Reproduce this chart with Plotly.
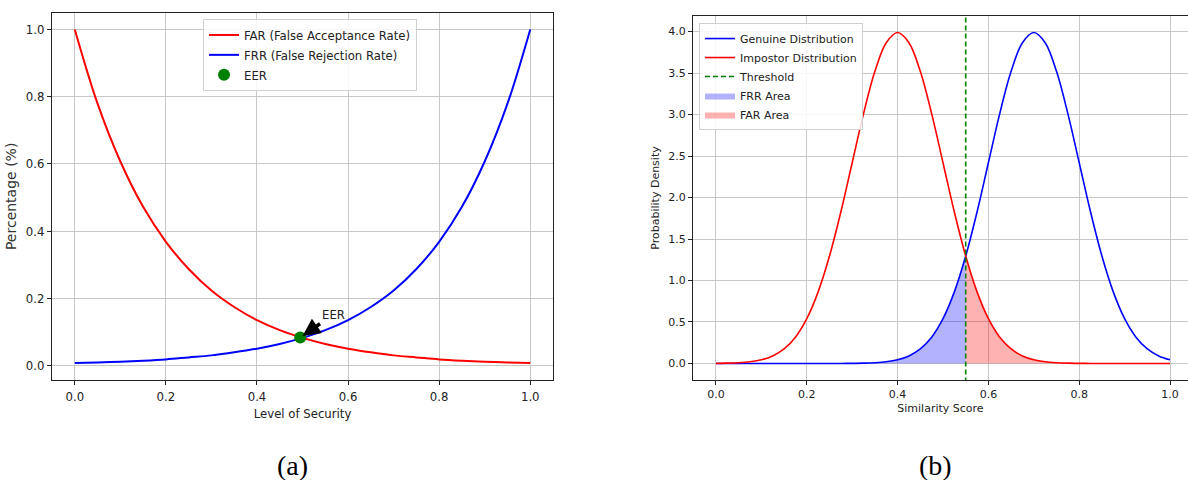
import plotly.graph_objects as go

# ---------- Panel (a) data ----------
security = [0.00, 0.05, 0.10, 0.15, 0.20, 0.25, 0.30, 0.35, 0.40, 0.45, 0.50,
            0.55, 0.60, 0.65, 0.70, 0.75, 0.80, 0.85, 0.90, 0.95, 1.00]
far = [1.000, 0.779, 0.607, 0.472, 0.368, 0.287, 0.223, 0.174, 0.135, 0.105, 0.082,
       0.064, 0.050, 0.039, 0.030, 0.024, 0.018, 0.014, 0.011, 0.009, 0.007]
frr = [0.007, 0.009, 0.011, 0.014, 0.018, 0.024, 0.030, 0.039, 0.050, 0.064, 0.082,
       0.105, 0.135, 0.174, 0.223, 0.287, 0.368, 0.472, 0.607, 0.779, 1.000]
eer_x = [0.495]
eer_y = [0.083]

# ---------- Panel (b) data ----------
score = [round(i * 0.025, 3) for i in range(41)]
genuine = [0, 0, 0, 0, 0, 0, 0, 0, 0.0, 0.0, 0.0001, 0.0004, 0.0013, 0.0035, 0.0087,
           0.020, 0.044, 0.091, 0.175, 0.317, 0.540, 0.863, 1.295, 1.826, 2.420, 3.011,
           3.521, 3.866, 3.989, 3.866, 3.521, 3.011, 2.420, 1.826, 1.295, 0.863, 0.540,
           0.317, 0.175, 0.091, 0.044]
impostor = [0.0013, 0.0035, 0.0087, 0.020, 0.044, 0.091, 0.175, 0.317, 0.540, 0.863,
            1.295, 1.826, 2.420, 3.011, 3.521, 3.866, 3.989, 3.866, 3.521, 3.011, 2.420,
            1.826, 1.295, 0.863, 0.540, 0.317, 0.175, 0.091, 0.044, 0.020, 0.0087, 0.0035,
            0.0013, 0.0004, 0.0001, 0, 0, 0, 0, 0, 0]
threshold = 0.55

LFONT = "DejaVu Sans Condensed, Liberation Sans Narrow, DejaVu Sans, sans-serif"
RFONT = "DejaVu Sans, sans-serif"

fig = go.Figure()

# Panel (a)
fig.add_trace(go.Scatter(x=security, y=far, mode="lines", line=dict(color="red", width=2, shape="spline"),
                         name="FAR (False Acceptance Rate)", xaxis="x", yaxis="y", legend="legend"))
fig.add_trace(go.Scatter(x=security, y=frr, mode="lines", line=dict(color="blue", width=2, shape="spline"),
                         name="FRR (False Rejection Rate)", xaxis="x", yaxis="y", legend="legend"))
fig.add_trace(go.Scatter(x=eer_x, y=eer_y, mode="markers", marker=dict(color="green", size=12),
                         name="EER", xaxis="x", yaxis="y", legend="legend"))

# Panel (b)
ti = score.index(threshold)
fig.add_trace(go.Scatter(x=score[:ti + 1], y=genuine[:ti + 1], mode="lines", fill="tozeroy",
                         line=dict(width=0, color="rgba(0,0,255,0.3)", shape="spline", smoothing=1),
                         fillcolor="rgba(0,0,255,0.3)", name="FRR Area", xaxis="x2", yaxis="y2",
                         legend="legend2", legendrank=4))
fig.add_trace(go.Scatter(x=score[ti:], y=impostor[ti:], mode="lines", fill="tozeroy",
                         line=dict(width=0, color="rgba(255,0,0,0.3)", shape="spline", smoothing=1),
                         fillcolor="rgba(255,0,0,0.3)", name="FAR Area", xaxis="x2", yaxis="y2",
                         legend="legend2", legendrank=5))
fig.add_trace(go.Scatter(x=score, y=genuine, mode="lines", line=dict(color="blue", width=1.6, shape="spline", smoothing=1),
                         name="Genuine Distribution", xaxis="x2", yaxis="y2", legend="legend2", legendrank=1))
fig.add_trace(go.Scatter(x=score, y=impostor, mode="lines", line=dict(color="red", width=1.6, shape="spline", smoothing=1),
                         name="Impostor Distribution", xaxis="x2", yaxis="y2", legend="legend2", legendrank=2))
fig.add_trace(go.Scatter(x=[threshold, threshold], y=[-1, 5], mode="lines",
                         line=dict(color="green", width=1.6, dash="5px,3px"),
                         name="Threshold", xaxis="x2", yaxis="y2", legend="legend2", legendrank=3))

axis_common = dict(showline=True, linecolor="#222", linewidth=1, mirror=True, ticks="outside",
                   ticklen=4, tickcolor="#222", showgrid=True, gridcolor="#c8c8c8", gridwidth=1.3,
                   zeroline=False, automargin=False)

fig.update_layout(
    template="none",
    width=1188, height=480,
    margin=dict(l=0, r=0, t=0, b=0),
    paper_bgcolor="white", plot_bgcolor="white",
    xaxis=dict(domain=[0.0438, 0.4655], range=[-0.05, 1.05], tickvals=[0, 0.2, 0.4, 0.6, 0.8, 1.0],
               ticktext=["0.0", "0.2", "0.4", "0.6", "0.8", "1.0"],
               tickfont=dict(family=LFONT, size=13, color="#222"),
               title=dict(text="Level of Security", font=dict(family=LFONT, size=13, color="#222"), standoff=6),
               **axis_common),
    yaxis=dict(domain=[0.2083, 0.9735], range=[-0.0433, 1.0497], tickvals=[0, 0.2, 0.4, 0.6, 0.8, 1.0],
               ticktext=["0.0", "0.2", "0.4", "0.6", "0.8", "1.0"],
               tickfont=dict(family=LFONT, size=13, color="#222"),
               title=dict(text="Percentage (%)", font=dict(family="DejaVu Sans, sans-serif", size=14, color="#333"), standoff=5),
               **axis_common),
    xaxis2=dict(domain=[0.5833, 1.0], range=[-0.0507, 1.0396], tickvals=[0, 0.2, 0.4, 0.6, 0.8, 1.0],
                ticktext=["0.0", "0.2", "0.4", "0.6", "0.8", "1.0"],
                tickfont=dict(family=RFONT, size=11, color="#222"),
                title=dict(text="Similarity Score", font=dict(family=RFONT, size=11, color="#222"), standoff=4),
                anchor="y2", **axis_common),
    yaxis2=dict(domain=[0.2083, 0.9667], range=[-0.1995, 4.1885],
                tickvals=[0, 0.5, 1.0, 1.5, 2.0, 2.5, 3.0, 3.5, 4.0],
                ticktext=["0.0", "0.5", "1.0", "1.5", "2.0", "2.5", "3.0", "3.5", "4.0"],
                tickfont=dict(family=RFONT, size=11, color="#222"),
                title=dict(text="Probability Density", font=dict(family=RFONT, size=11, color="#222"), standoff=6),
                anchor="x2", **axis_common),
    legend=dict(x=0.1709, y=0.9604, xanchor="left", yanchor="top", bgcolor="rgba(255,255,255,0.85)",
                bordercolor="#d0d0d0", borderwidth=1, font=dict(family=LFONT, size=13, color="#222")),
    legend2=dict(x=0.5884, y=0.952, xanchor="left", yanchor="top", bgcolor="rgba(255,255,255,0.85)",
                 bordercolor="#d0d0d0", borderwidth=1, font=dict(family=RFONT, size=11, color="#222")),
    showlegend=True,
)

fig.add_annotation(x=0.5, y=0.088, xref="x", yref="y", ax=0.567, ay=0.151, axref="x", ayref="y",
                   text="EER", showarrow=True, arrowhead=2, arrowsize=1.0, arrowwidth=3.5, arrowcolor="black",
                   font=dict(family=LFONT, size=13, color="#222"))
fig.add_annotation(x=292 / 1188, y=(480 - 465) / 480, xref="paper", yref="paper", text="(a)", showarrow=False,
                   xanchor="center", yanchor="middle",
                   font=dict(family="Liberation Serif, DejaVu Serif, serif", size=28, color="black"))
fig.add_annotation(x=935 / 1188, y=(480 - 465) / 480, xref="paper", yref="paper", text="(b)", showarrow=False,
                   xanchor="center", yanchor="middle",
                   font=dict(family="Liberation Serif, DejaVu Serif, serif", size=28, color="black"))

fig.write_html("out.html", config={"displayModeBar": False},
               post_script="document.body.style.margin='0';document.body.style.overflow='hidden';")
